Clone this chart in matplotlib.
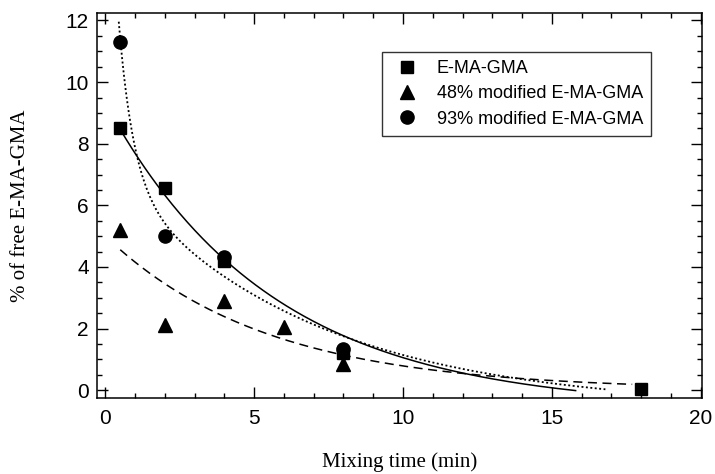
import numpy as np
import matplotlib
matplotlib.use('Agg')
import matplotlib.pyplot as plt

plt.rcParams['font.family'] = ['Liberation Sans', 'DejaVu Sans']
plt.rcParams['lines.scale_dashes'] = False

# measured free E-MA-GMA (%) vs mixing time (min)
time_e = [0.5, 2, 4, 8, 18]
free_e = [8.5, 6.55, 4.2, 1.2, 0.05]

time_48 = [0.5, 2, 4, 6, 8]
free_48 = [5.2, 2.1, 2.9, 2.05, 0.85]

time_93 = [0.5, 2, 4, 8]
free_93 = [11.3, 5.0, 4.32, 1.35]

labels = ['E-MA-GMA', '48% modified E-MA-GMA', '93% modified E-MA-GMA']

# fitted decay curves: y = a*exp(-k*t) + b*exp(-m*t) + c
fit_e = dict(a=9.91, k=0.179, b=0.0, m=0.0, c=-0.6, t0=0.5, t1=15.8)
fit_48 = dict(a=5.0, k=0.185, b=0.0, m=0.0, c=0.0, t0=0.5, t1=17.7)
fit_93 = dict(a=12.96, k=2.0, b=7.8, m=0.15, c=-0.6, t0=0.45, t1=16.8)


def decay(p):
	t = np.linspace(p['t0'], p['t1'], 300)
	y = p['a'] * np.exp(-p['k'] * t) + p['b'] * np.exp(-p['m'] * t) + p['c']
	return t, y


fig = plt.figure(figsize=(7.15, 4.74), dpi=100)
ax = fig.add_axes([0.1357, 0.160, 0.8463, 0.813])

t, y = decay(fit_e)
ax.plot(t, y, color='black', lw=1.1, ls='-')
t, y = decay(fit_48)
ax.plot(t, y, color='black', lw=1.1, ls=(0, (6.5, 4.0)))
t, y = decay(fit_93)
ax.plot(t, y, color='black', lw=1.3, ls=(0, (1.4, 1.8)))

ax.plot(time_e, free_e, 's', color='black', ms=9, label=labels[0])
ax.plot(time_48, free_48, '^', color='black', ms=10, label=labels[1])
ax.plot(time_93, free_93, 'o', color='black', ms=9.5, label=labels[2])

ax.set_xlim(-0.28, 20.05)
ax.set_ylim(-0.26, 12.25)
ax.set_xticks([0, 5, 10, 15, 20])
ax.set_xticks(np.arange(0, 21, 1), minor=True)
ax.set_yticks([0, 2, 4, 6, 8, 10, 12])
ax.set_yticks(np.arange(0, 12.5, 0.5), minor=True)

ax.tick_params(which='both', direction='in', top=True, right=True, width=1.0)
ax.tick_params(which='major', length=8, labelsize=15)
ax.tick_params(which='minor', length=3.8)
ax.tick_params(axis='x', which='major', pad=8)
ax.tick_params(axis='y', which='major', pad=6)
for s in ax.spines.values():
	s.set_linewidth(1.1)

ax.set_xlabel('Mixing time (min)', family='Liberation Serif', fontsize=15)
ax.set_ylabel('% of free E-MA-GMA', family='Liberation Serif', fontsize=15)
ax.xaxis.set_label_coords(0.5, -0.14)
ax.yaxis.set_label_coords(-0.11, 0.5)

leg = ax.legend(loc='upper left', bbox_to_anchor=(0.534, 0.890),
	bbox_transform=fig.transFigure, fontsize=13, frameon=True,
	fancybox=False, handlelength=1.9, handletextpad=0.7,
	borderpad=0.45, labelspacing=0.45, borderaxespad=0)
leg.get_frame().set_edgecolor('black')
leg.get_frame().set_linewidth(1.0)

fig.savefig('out.png', dpi=100)
